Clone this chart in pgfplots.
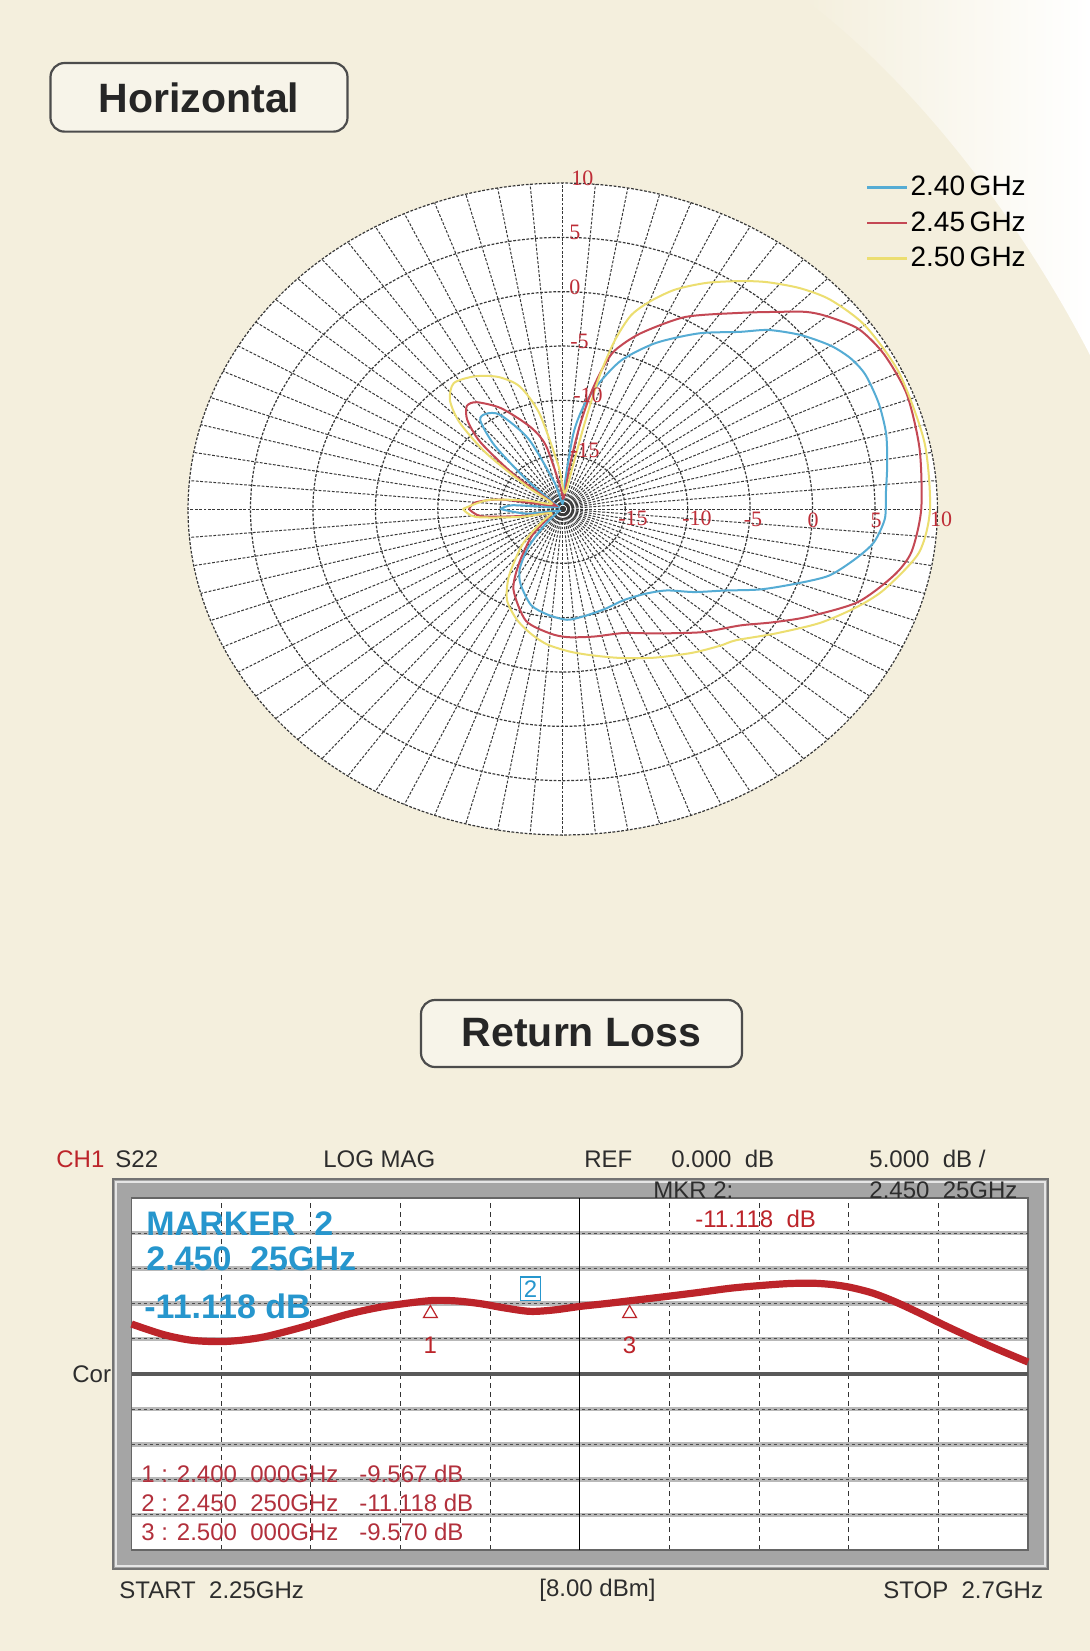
\documentclass[border=0pt]{standalone}
\usepackage{pgfplots}
\pgfplotsset{compat=1.18}
\usepackage{pgfplotstable}
\usepackage{fontspec}
\setmainfont{Liberation Sans}
\newfontfamily\seriffont{Liberation Serif}

\definecolor{cream}{RGB}{244,239,221}
\definecolor{boxfill}{RGB}{247,244,233}
\definecolor{pblue}{RGB}{85,172,212}
\definecolor{pred}{RGB}{196,72,84}
\definecolor{pyel}{RGB}{236,222,112}
\definecolor{lblred}{RGB}{190,45,55}
\definecolor{tracered}{RGB}{188,36,42}
\definecolor{mcyan}{RGB}{38,150,205}
\definecolor{mred}{RGB}{178,48,60}
\definecolor{vtext}{RGB}{45,45,45}
\definecolor{framegray}{RGB}{165,165,165}

\tikzset{pgrid/.style={black!78, line width=0.5pt, dash pattern=on 1.4pt off 0.8pt}}

% radiation pattern, horizontal plane: angle (deg), gain (dB)
\pgfplotstableread{
ang db
-180 -15
-172 -17
-160 -19.5
-145 -19.5
-135 -18
-128 -15.5
-122 -13.5
-116 -12.3
-106 -10.8
-97 -10.2
-88 -9.8
-80 -10
-70 -10.2
-60 -10.3
-50 -9.8
-42 -8.8
-36 -7
-30 -5
-25 -2.5
-20 0
-16 2.2
-11 3.9
-7 5.1
-2 5.8
3 5.9
9 6.3
15 6.8
21 7.1
27 7.2
31 6.9
35 6.2
40 4.9
45 3.3
49 1.6
56 -0.5
64 -3
71 -5.5
76 -8.1
80 -10.4
83 -13
86 -17.6
92 -19.5
105 -17.5
113 -13
120 -10
125 -9.3
129 -9.5
133 -12
137 -16
142 -19
160 -19.5
175 -16
180 -15
}\bluetab

\pgfplotstableread{
ang db
-180 -12.5
-174 -13.5
-168 -17
-158 -19
-145 -18.5
-135 -16.5
-125 -13.9
-118 -11.6
-106 -9.3
-95 -8.5
-88 -8.2
-78 -8.0
-67 -7.6
-58 -6.5
-52 -5.5
-45 -4
-37 -2.2
-32 -0.3
-27 1.9
-20 5.1
-13 7.2
-8 8.2
0 8.7
11 9.1
21 9.5
29 9.4
35 8.9
40 7.6
43 6.6
47 4.8
52 2.9
61 0.2
69 -2.7
74 -4.8
76 -6.5
78 -9
80 -12.3
82 -16
86 -19
95 -18
103 -14
109 -12
118 -9.5
125 -8
129 -7.8
133 -8.8
137 -11
141 -15
146 -19
160 -19
170 -15
175 -13
180 -12.5
}\redtab

\pgfplotstableread{
ang db
-180 -12
-174 -13
-168 -16.5
-158 -19
-145 -18
-135 -15.5
-125 -12.5
-118 -10.5
-110 -9.2
-103 -8.3
-96 -7.5
-88 -6.9
-81 -6.4
-72 -5.6
-62 -4.5
-52 -3.2
-45 -2.2
-41 -1.6
-34 0.5
-27 3.1
-21 5.2
-16 6.8
-8 8.8
0 9.4
12 9.6
25 9.7
35 9.5
42 8.8
47 7.8
52 6.5
56 5.3
61 3.8
66 2.1
70 0.3
73 -1.4
75 -4
76.5 -7.5
77.5 -12
78.5 -16
84 -18.5
95 -16
102 -11
107 -8.2
113 -6.8
120 -5.9
127 -5.5
132 -6.5
136 -8.5
140 -12
144 -16.5
150 -19
165 -17
172 -14
180 -12
}\yeltab

% return loss trace: frequency (GHz), S22 (dB)
\pgfplotstableread{
f db
2.250 -12.9
2.266 -14.4
2.280 -15.2
2.294 -15.4
2.305 -15.2
2.317 -14.7
2.331 -13.7
2.345 -12.6
2.360 -11.4
2.377 -10.4
2.399 -9.6
2.412 -9.6
2.425 -10.0
2.437 -10.6
2.450 -11.1
2.462 -10.9
2.475 -10.4
2.488 -10.0
2.500 -9.6
2.518 -9.0
2.535 -8.4
2.551 -7.8
2.567 -7.4
2.580 -7.15
2.592 -7.1
2.602 -7.3
2.611 -7.7
2.622 -8.5
2.633 -9.7
2.646 -11.4
2.659 -13.2
2.672 -14.9
2.684 -16.4
2.700 -18.3
}\rltab

\begin{document}
\begin{tikzpicture}[x=0.5pt,y=-0.5pt]
\fill[cream] (0,0) rectangle (1090,1651);
\shade[left color=cream, right color=white] (805,0) .. controls (900,70) and (1010,200) .. (1090,355) -- (1090,0) -- cycle;
\coordinate (polarSW) at (188,835);
\coordinate (vnaSW) at (131.6,1550);

% title boxes
\draw[rounded corners=7pt, line width=1.1pt, draw=black!70, fill=boxfill] (50.5,63) rectangle (347.5,131.6);
\node[font=\fontsize{20.5}{24}\selectfont\bfseries, text=black!85] at (199,98) {Horizontal};
\draw[rounded corners=7pt, line width=1.1pt, draw=black!70, fill=boxfill] (421,1000) rectangle (742,1067);
\node[font=\fontsize{20.5}{24}\selectfont\bfseries, text=black!85] at (581.5,1033) {Return Loss};

% ---------- polar pattern ----------
\begin{axis}[at={(polarSW)}, anchor=south west, scale only axis,
  width=374.75pt, height=326pt,
  xmin=-30, xmax=30, ymin=-30, ymax=30, hide axis, clip=false,
  legend style={at={(0.9046,0.9387)}, anchor=west, draw=none, fill=none,
    inner sep=0pt, font=\fontsize{14}{16}\selectfont, row sep=4.5pt,
    nodes={inner sep=1pt},
    /tikz/every even column/.append style={column sep=0pt}},
  legend cell align=left,
  legend image code/.code={\draw[#1, line width=1.1pt] (0pt,0pt) -- (20pt,0pt);}]
\addplot[fill=white, draw=none, domain=0:360, samples=181, forget plot] ({30*cos(x)},{30*sin(x)});
\pgfplotsinvokeforeach{0,5,...,355}{
  \draw[pgrid] (axis cs:0,0) -- (axis cs:{30*cos(#1)},{30*sin(#1)});
}
\pgfplotsinvokeforeach{5,10,15,20,25,30}{
  \addplot[pgrid, line width=0.6pt, domain=0:360, samples=181, forget plot] ({#1*cos(x)},{#1*sin(x)});
}
\addplot[pblue, line width=1pt, smooth, tension=0.45] table[x expr={(\thisrow{db}+20)*cos(\thisrow{ang})}, y expr={(\thisrow{db}+20)*sin(\thisrow{ang})}]{\bluetab};
\addlegendentry{2.40\,GHz}
\addplot[pred, line width=1pt, smooth, tension=0.45] table[x expr={(\thisrow{db}+20)*cos(\thisrow{ang})}, y expr={(\thisrow{db}+20)*sin(\thisrow{ang})}]{\redtab};
\addlegendentry{2.45\,GHz}
\addplot[pyel, line width=1pt, smooth, tension=0.45] table[x expr={(\thisrow{db}+20)*cos(\thisrow{ang})}, y expr={(\thisrow{db}+20)*sin(\thisrow{ang})}]{\yeltab};
\addlegendentry{2.50\,GHz}
\end{axis}

% ring labels
\begin{scope}[every node/.append style={font=\seriffont\fontsize{11}{12}\selectfont, text=lblred, inner sep=0pt}]
\node[anchor=west] at (571,178) {10};
\node[anchor=west] at (569,232) {5};
\node[anchor=west] at (569,287) {0};
\node[anchor=west] at (570,341) {-5};
\node[anchor=west] at (573,395) {-10};
\node[anchor=west] at (570,450) {-15};
\node at (633,518) {-15};
\node at (697,518) {-10};
\node at (753,519) {-5};
\node at (813,520) {0};
\node at (876,520) {5};
\node at (941,519) {10};
\end{scope}

% ---------- return loss (VNA screen) ----------
\fill[framegray] (113,1179) rectangle (1048,1569);
\draw[white!80!gray, line width=0.8pt] (116,1182) rectangle (1045,1566);
\draw[black!55, line width=0.8pt] (113,1179) rectangle (1048,1569);

\begin{axis}[at={(vnaSW)}, anchor=south west, scale only axis,
  width=448.2pt, height=176pt,
  xmin=2.25, xmax=2.7, ymin=-45, ymax=5,
  xtick={2.295,2.34,2.385,2.43,2.52,2.565,2.61,2.655},
  ytick={-40,-35,-30,-25,-15,-10,-5,0},
  xticklabels={}, yticklabels={}, major tick length=0pt,
  grid=major,
  major x grid style={black!80, dash pattern=on 2.5pt off 2pt, line width=0.5pt},
  major y grid style={gray!55, line width=2.2pt},
  axis line style={draw=black!60, line width=0.8pt},
  axis background/.style={fill=white}, clip=false]
\pgfplotsinvokeforeach{-40,-35,-30,-25,-15,-10,-5,0}{
  \draw[black!70, dash pattern=on 1.5pt off 1.5pt, line width=0.4pt] (axis cs:2.25,#1) -- (axis cs:2.7,#1);
}
\draw[gray!70!black, line width=2.4pt] (axis cs:2.25,-20) -- (axis cs:2.7,-20);
\draw[black, line width=0.6pt] (axis cs:2.475,-45) -- (axis cs:2.475,5);
\addplot[tracered, line width=3.6pt, smooth, tension=0.5] table[x=f, y=db]{\rltab};
\addplot[only marks, mark=triangle, mark size=4pt, color=tracered, mark options={yshift=-6.5pt, line width=0.6pt},
  nodes near coords, point meta=explicit symbolic,
  every node near coord/.style={anchor=north, yshift=-8pt, font=\fontsize{12}{14}\selectfont, text=tracered}]
  coordinates {(2.40,-9.567) [1] (2.50,-9.570) [3]};
\addplot[draw=none, nodes near coords, point meta=explicit symbolic,
  every node near coord/.style={anchor=south, yshift=5pt, draw=mcyan, text=mcyan, inner sep=1.8pt, line width=0.6pt, font=\fontsize{12}{14}\selectfont}]
  coordinates {(2.45025,-11.118) [2]};
\end{axis}

% VNA texts
\begin{scope}[every node/.append style={font=\fontsize{12}{14}\selectfont, inner sep=0pt, anchor=west, text=vtext}]
\node[text=tracered] at (56,1159) {CH1};
\node at (115,1159) {S22};
\node at (323,1159) {LOG MAG};
\node at (584,1159) {REF};
\node at (671,1159) {0.000\ \ dB};
\node at (869,1159) {5.000\ \ dB /};
\node at (653,1190) {MKR 2:};
\node at (869,1190) {2.450\ \ 25GHz};
\node[text=tracered] at (695,1219) {-11.118\ \ dB};
\node at (72,1374) {Cor};
\node at (119,1590) {START\ \ 2.25GHz};
\node at (539,1590) {[8.00 dBm]};
\node at (883,1590) {STOP\ \ 2.7GHz};
\node[text=mred] at (141,1474) {1 : 2.400\ \ 000GHz};
\node[text=mred] at (359,1474) {-9.567 dB};
\node[text=mred] at (141,1503) {2 : 2.450\ \ 250GHz};
\node[text=mred] at (359,1503) {-11.118 dB};
\node[text=mred] at (141,1532) {3 : 2.500\ \ 000GHz};
\node[text=mred] at (359,1532) {-9.570 dB};
\end{scope}
\begin{scope}[every node/.append style={font=\fontsize{17}{20}\selectfont\bfseries, inner sep=0pt, anchor=west, text=mcyan}]
\node at (146,1224) {MARKER\ \ 2};
\node at (146,1259) {2.450\ \ 25GHz};
\node at (144,1306) {-11.118 dB};
\end{scope}

\pgfresetboundingbox
\useasboundingbox (0,0) rectangle (1090,1651);
\end{tikzpicture}
\end{document}
